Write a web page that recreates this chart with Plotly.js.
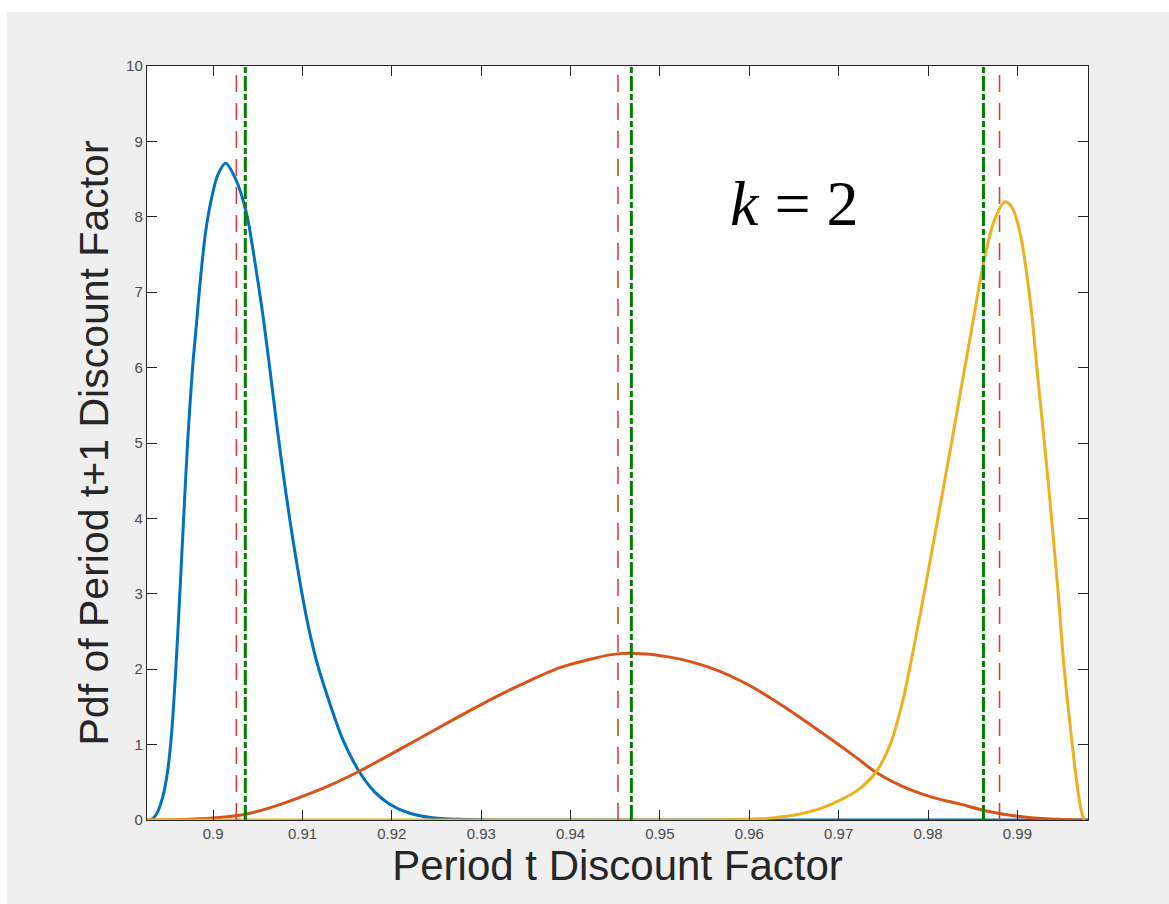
<!DOCTYPE html>
<html>
<head>
<meta charset="utf-8">
<script src="https://cdn.plot.ly/plotly-3.0.1.min.js"></script>
<style>
  html, body { margin: 0; padding: 0; background: #ffffff; }
  #chart { position: absolute; left: 7px; top: 12px; width: 1162px; height: 892px; }
</style>
</head>
<body>
<div id="chart"></div>
<script>
// ---- data ----
const blueX = [0.89255, 0.89300, 0.89367, 0.89435, 0.89491, 0.89535, 0.89580, 0.89625, 0.89670, 0.89714, 0.89770, 0.89815, 0.89860, 0.89916, 0.89983, 0.90050, 0.90140, 0.90252, 0.90375, 0.90465, 0.90554, 0.90633, 0.90711, 0.90801, 0.90913, 0.91044, 0.91148, 0.91268, 0.91450, 0.91641, 0.91809, 0.91977, 0.92200, 0.92458, 0.92872, 0.93208, 0.99790];
const blueY = [0, 0, 0.08, 0.30, 0.65, 1.15, 1.95, 2.95, 4.00, 5.00, 6.00, 6.60, 7.20, 7.80, 8.25, 8.55, 8.71, 8.50, 8.04, 7.42, 6.72, 6.00, 5.25, 4.45, 3.57, 2.69, 2.15, 1.68, 1.07, 0.63, 0.37, 0.21, 0.09, 0.03, 0.005, 0, 0];

const orangeX = [0.89255, 0.89569, 0.89849, 0.90129, 0.90375, 0.90633, 0.90969, 0.91305, 0.91641, 0.92032, 0.92458, 0.92872, 0.93208, 0.93544, 0.93880, 0.94216, 0.94440, 0.94675, 0.95112, 0.95560, 0.96008, 0.96456, 0.96904, 0.97184, 0.97408, 0.97688, 0.98024, 0.98359, 0.98696, 0.99031, 0.99367, 0.99759];
const orangeY = [0, 0.004, 0.015, 0.04, 0.08, 0.16, 0.30, 0.46, 0.65, 0.90, 1.18, 1.45, 1.66, 1.85, 2.02, 2.13, 2.19, 2.21, 2.16, 2.02, 1.78, 1.45, 1.08, 0.84, 0.64, 0.46, 0.31, 0.21, 0.11, 0.045, 0.012, 0];

const yellowX = [0.89255, 0.95537, 0.95896, 0.96232, 0.96568, 0.96792, 0.97027, 0.97217, 0.97408, 0.97576, 0.97721, 0.97856, 0.97979, 0.98102, 0.98225, 0.98359, 0.98494, 0.98620, 0.98740, 0.98863, 0.98942, 0.99031, 0.99143, 0.99236, 0.99311, 0.99390, 0.99457, 0.99524, 0.99614, 0.99670, 0.99715, 0.99748];
const yellowY = [0, 0, 0.005, 0.025, 0.08, 0.15, 0.27, 0.40, 0.62, 1.00, 1.60, 2.38, 3.15, 3.95, 4.75, 5.65, 6.55, 7.38, 7.95, 8.20, 8.12, 7.78, 6.89, 5.78, 4.90, 3.90, 3.00, 2.00, 1.00, 0.45, 0.12, 0];

const redLineX = [0.9026, 0.9453, 0.9880];     // dashed red verticals
const greenLineX = [0.9036, 0.9468, 0.9862];   // dash-dot green verticals

const xTickVals = [0.9, 0.91, 0.92, 0.93, 0.94, 0.95, 0.96, 0.97, 0.98, 0.99];
const xTickText = ["0.9", "0.91", "0.92", "0.93", "0.94", "0.95", "0.96", "0.97", "0.98", "0.99"];
const yTickVals = [0, 1, 2, 3, 4, 5, 6, 7, 8, 9, 10];

const xRange = [0.8926, 0.9979];
const yRange = [0, 10];

// ---- traces ----
const traces = [];
function curve(x, y, color) {
  return { x: x, y: y, type: 'scatter', mode: 'lines',
           line: { color: color, width: 3, shape: 'spline', smoothing: 0.8 },
           hoverinfo: 'skip', showlegend: false };
}
traces.push(curve(blueX, blueY, '#0072BD'));
traces.push(curve(orangeX, orangeY, '#D95319'));
traces.push(curve(yellowX, yellowY, '#EDB120'));

redLineX.forEach(function (v) {
  traces.push({ x: [v, v], y: [yRange[0], yRange[1]], type: 'scatter', mode: 'lines',
    line: { color: '#e03c3c', width: 1.6, dash: '17px,11px' }, showlegend: false, hoverinfo: 'skip' });
});
greenLineX.forEach(function (v) {
  traces.push({ x: [v, v], y: [yRange[0], yRange[1]], type: 'scatter', mode: 'lines',
    line: { color: '#008000', width: 3, dash: '15px,3px,6px,3px' }, showlegend: false, hoverinfo: 'skip' });
});

const axisCommon = {
  showline: true, linecolor: '#262626', linewidth: 1.2, mirror: 'ticks',
  ticks: 'inside', ticklen: 10, tickwidth: 1, tickcolor: '#262626',
  showgrid: false, zeroline: false,
  tickfont: { family: 'Liberation Sans, Arial, sans-serif', size: 15, color: '#4a4a4a' }
};

const layout = {
  width: 1162, height: 892,
  paper_bgcolor: '#efefef', plot_bgcolor: '#ffffff',
  margin: { l: 140, r: 81, t: 54, b: 84 },
  showlegend: false,
  xaxis: Object.assign({}, axisCommon, {
    range: xRange, tickvals: xTickVals, ticktext: xTickText,
    title: { text: 'Period t Discount Factor', standoff: 0,
             font: { family: 'Liberation Sans, Arial, sans-serif', size: 42, color: '#262626' } }
  }),
  yaxis: Object.assign({}, axisCommon, {
    range: yRange, tickvals: yTickVals,
    title: { text: 'Pdf of Period t+1 Discount Factor', standoff: 4,
             font: { family: 'Liberation Sans, Arial, sans-serif', size: 41, color: '#262626' } }
  }),
  annotations: [{
    x: 0.9651, y: 8.18, xref: 'x', yref: 'y',
    text: '<i>k</i> = 2', showarrow: false, xanchor: 'center', yanchor: 'middle',
    font: { family: 'Liberation Serif, Times New Roman, serif', size: 64, color: '#000000' }
  }]
};

Plotly.newPlot('chart', traces, layout, { displayModeBar: false, staticPlot: true });
</script>
</body>
</html>
